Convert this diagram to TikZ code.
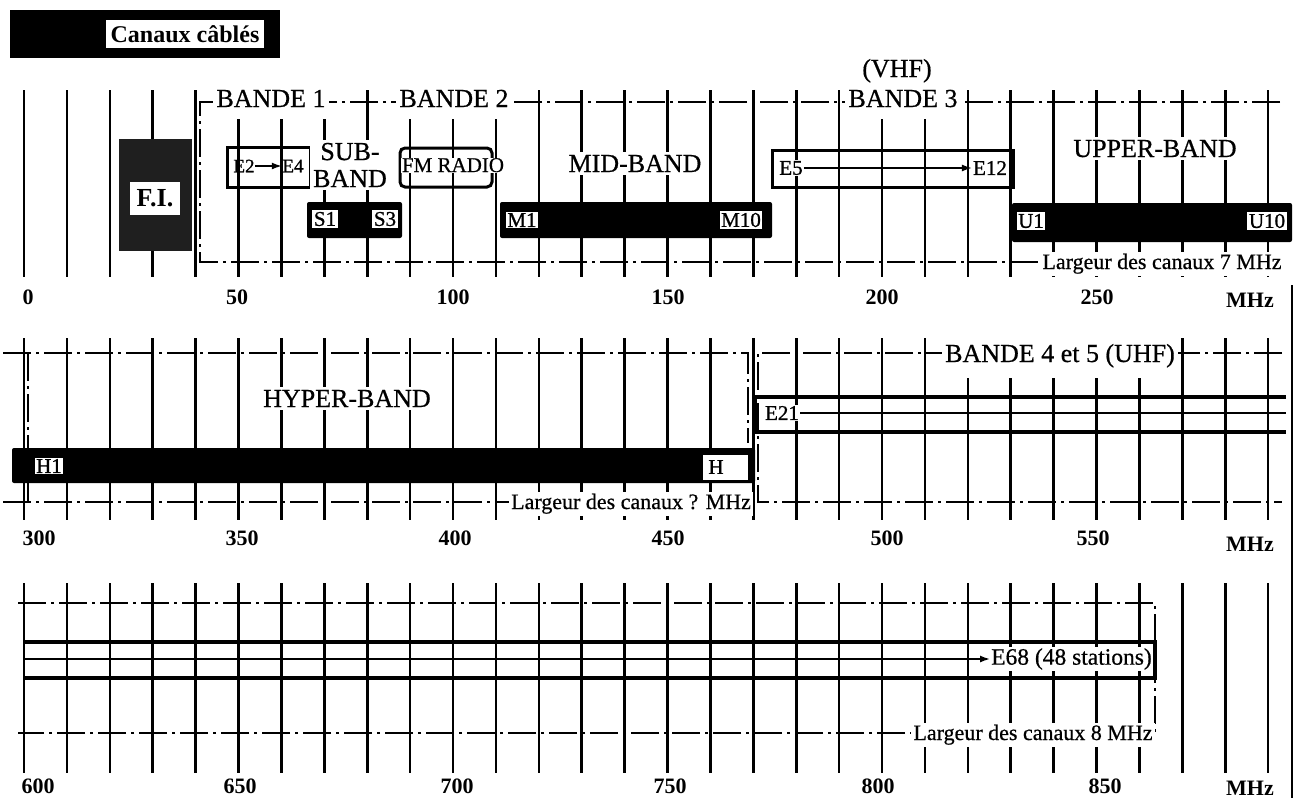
\documentclass[tikz,border=0pt]{standalone}
\usepackage{fontspec}
\setmainfont{Liberation Serif}
\newfontfamily\hv{Liberation Serif}[FakeBold=0.6]
\newfontfamily\hvv{Liberation Serif}[FakeBold=1.0]
\usetikzlibrary{arrows.meta}
\newcommand{\fsz}[1]{\fontsize{#1}{#1}\selectfont}
\begin{document}
\begin{tikzpicture}[x=1pt,y=-1pt,
  tk/.style={line width=2.6pt},
  dd/.style={line width=1.9pt, dash pattern=on 28pt off 5pt on 3pt off 5pt},
  barfill/.style={fill=black, rounded corners=2pt},
  wl/.style={fill=white, inner sep=1.5pt, font=\hvv\fsz{21}},
  big/.style={fill=white, inner xsep=3pt, inner ysep=3pt, font=\hv\fsz{26}, anchor=base},
  num/.style={font=\bfseries\fsz{22}, anchor=base, inner sep=0pt},
  frm/.style={line width=3pt},
  band/.style={line width=3.2pt},
  midline/.style={line width=1.5pt},
  arr/.style={line width=1.4pt, -{Latex[length=10pt,width=7pt]}},
  lg/.style={fill=white, font=\hv\fsz{22}, anchor=base, inner sep=2pt},
]
\useasboundingbox (0,0) rectangle (1297,798);

% ---------- ticks ----------
\foreach \i in {0,...,29} {
  \draw[tk] ({24+42.9*\i},90) -- ({24+42.9*\i},277);
  \draw[tk] ({24+42.9*\i},338) -- ({24+42.9*\i},520);
  \draw[tk] ({24+42.9*\i},583) -- ({24+42.9*\i},773);
}

% ---------- title ----------
\fill (10,10) rectangle (280,58);
\node[fill=white, font=\bfseries\fsz{24}, inner xsep=5pt, minimum height=28pt] (title) at (185,34) {Canaux câblés};

% ---------- row 1 ----------
\draw[dd] (1280,102) -- (200,102) -- (200,262) -- (1045,262);

\fill[black!88] (119,139) rectangle (192,251);
\node[fill=white, font=\bfseries\fsz{26}, inner sep=1pt, minimum width=50pt, minimum height=33pt] (fi) at (155,198) {F.I.};

\node[big, inner ysep=12pt] (b1) at (271,107) {BANDE 1};
\node[big, inner ysep=12pt] (b2) at (454,107) {BANDE 2};
\node[big, inner ysep=12pt] (b3) at (903,107) {BANDE 3};
\node[font=\hv\fsz{26}, anchor=base, inner sep=0pt] (vhf) at (897,77) {(VHF)};

\draw[frm] (227,147) rectangle (310,187);
\node[font=\hvv\fsz{19}, inner sep=0.5pt] (e2) at (244,166) {E2};
\node[font=\hvv\fsz{19}, inner sep=0.5pt] (e4) at (293,166) {E4};
\draw[arr] (e2) -- (e4);

\node[fill=white, inner sep=3pt, align=center, font=\hv\fontsize{26}{27}\selectfont] (sub) at (350,165) {SUB-\\BAND};

\draw[frm, rounded corners=5pt] (400,148) rectangle (492,187);
\node[fill=white, inner sep=0.5pt, font=\hv\fsz{21}, anchor=base] (fm) at (453,172) {FM RADIO};

\node[big] (mid) at (635,172) {MID-BAND};
\node[big] (upper) at (1155,157) {UPPER-BAND};

\draw[frm] (772,150) rectangle (1013,187);
\node[fill=white, font=\hvv\fsz{21}, inner sep=1pt] (e5) at (791,168) {E5};
\node[fill=white, font=\hvv\fsz{21}, inner sep=1pt] (e12) at (990,168) {E12};
\draw[arr] (e5) -- (e12);

\fill[barfill] (307,202) rectangle (402,238);
\node[wl] (s1) at (325,219) {S1};
\node[wl] (s3) at (385,219) {S3};
\fill[barfill] (500,202) rectangle (772,238);
\node[wl] (m1) at (522,220) {M1};
\node[wl] (m10) at (741,220) {M10};
\fill[barfill] (1012,203) rectangle (1292,242);
\node[wl] (u1) at (1031,221) {U1};
\node[wl] (u10) at (1267,221) {U10};

\node[lg] (lg7) at (1162,269) {Largeur des canaux 7 MHz};

\node[num] at (28,304) {0};
\node[num] at (237,304) {50};
\node[num] at (453,304) {100};
\node[num] at (668,304) {150};
\node[num] at (882,304) {200};
\node[num] at (1097,304) {250};
\node[num] at (1250,307) {MHz};

% ---------- row 2 ----------
\draw[dd] (3,353) -- (748,353) -- (748,443);
\draw[dd] (3,502) -- (520,502);
\draw[dd] (28,353) -- (28,502);
\draw[dd] (1282,353) -- (758,353) -- (758,502) -- (1282,502);

\fill[barfill] (12,448) rectangle (755,483);
\node[wl] (h1) at (49,466) {H1};
\node[fill=white, minimum width=45pt, minimum height=25pt, inner sep=0pt] (hbox) at (725.5,467.5) {};
\node[font=\hvv\fsz{21}, inner sep=0pt] (h) at (716,467) {H};

\node[big] (hyper) at (347,407) {HYPER-BAND};
\node[big, inner ysep=10pt] (b45) at (1060,362) {BANDE 4 et 5 (UHF)};

\draw[band] (1286,397) -- (755,397) -- (755,432) -- (1286,432);
\node[fill=white, font=\hvv\fsz{21}, inner sep=1pt] (e21) at (782,413) {E21};
\coordinate (e21r) at (1286,413);
\draw[midline] (e21) -- (e21r);

\node[lg] (lgq) at (631,509) {Largeur des canaux ? MHz};

\node[num] at (39,545) {300};
\node[num] at (242,545) {350};
\node[num] at (455,545) {400};
\node[num] at (668,545) {450};
\node[num] at (887,545) {500};
\node[num] at (1093,545) {550};
\node[num] at (1250,551) {MHz};

% ---------- row 3 ----------
\draw[dd] (18,603) -- (1155,603) -- (1155,733) -- (18,733);
\draw[band] (24,642) -- (1155,642) -- (1155,678) -- (24,678);
\coordinate (e68l) at (24,659);
\node[fill=white, font=\hv\fsz{23.5}, inner sep=1pt, anchor=west] (e68) at (990,659) {E68 (48 stations)};
\draw[midline, -{Latex[length=10pt,width=7pt]}] (e68l) -- (e68);

\node[lg] (lg8) at (1033,740) {Largeur des canaux 8 MHz};

\node[num] at (38,793) {600};
\node[num] at (240,793) {650};
\node[num] at (457,793) {700};
\node[num] at (670,793) {750};
\node[num] at (878,793) {800};
\node[num] at (1105,793) {850};
\node[num] at (1250,795) {MHz};

% page edge
\draw[line width=1.5pt] (1292,285) -- (1292,798);
\end{tikzpicture}
\end{document}
